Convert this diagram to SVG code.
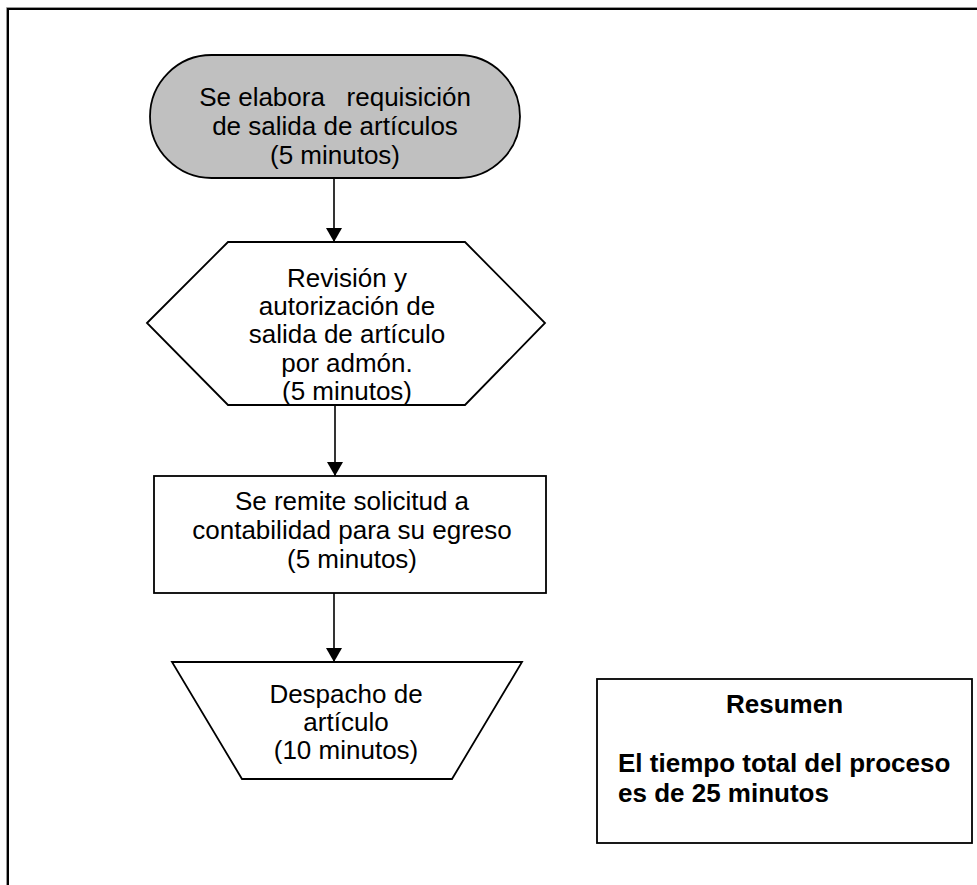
<svg xmlns="http://www.w3.org/2000/svg" width="977" height="885" viewBox="0 0 977 885">
  <style>
    .shape { stroke: #000; stroke-width: 1.8; fill: #fff; }
    .term { fill: #c0c0c0; }
    .lbl { font-family: "Liberation Sans", Arial, sans-serif; font-size: 26px; fill: #000; text-anchor: middle; white-space: pre; }
    .sum { font-family: "Liberation Sans", Arial, sans-serif; font-size: 26px; font-weight: bold; fill: #000; }
    .flow { stroke: #000; stroke-width: 1.6; fill: none; marker-end: url(#head); }
  </style>
  <defs>
    <marker id="head" viewBox="0 0 14 16" refX="14" refY="8" markerWidth="14" markerHeight="16" markerUnits="userSpaceOnUse" orient="auto">
      <path d="M0,0 L14,8 L0,16 Z" fill="#000"/>
    </marker>
    <clipPath id="hexClip">
      <polygon points="147,323 228,242 465,242 545,323 465,405 228,405"/>
    </clipPath>
  </defs>

  <rect width="977" height="885" fill="#fff"/>

  <!-- page frame (runs off the right and bottom edges) -->
  <path d="M6.5,885 V7.5 H977" fill="none" stroke="#999" stroke-width="1"/>
  <path d="M8,885 V9 H977" fill="none" stroke="#000" stroke-width="2"/>

  <g id="connectors">
    <line class="flow" x1="334" y1="178" x2="334" y2="242"/>
    <line class="flow" x1="335" y1="405" x2="335" y2="476"/>
    <line class="flow" x1="334" y1="593" x2="334" y2="662"/>
  </g>

  <g id="start">
    <rect class="shape term" x="150" y="55" width="370" height="123" rx="61.5" ry="61.5"/>
    <text class="lbl" x="335" y="106">Se elabora   requisición</text>
    <text class="lbl" x="335" y="135">de salida de artículos</text>
    <text class="lbl" x="335" y="164">(5 minutos)</text>
  </g>

  <g id="review">
    <polygon class="shape" points="147,323 228,242 465,242 545,323 465,405 228,405"/>
    <g clip-path="url(#hexClip)">
      <text class="lbl" x="347" y="287">Revisión y</text>
      <text class="lbl" x="347" y="315">autorización de</text>
      <text class="lbl" x="347" y="343">salida de artículo</text>
      <text class="lbl" x="347" y="372">por admón.</text>
      <text class="lbl" x="347" y="400">(5 minutos)</text>
    </g>
  </g>

  <g id="remit">
    <rect class="shape" x="154" y="476" width="392" height="117"/>
    <text class="lbl" x="352" y="510">Se remite solicitud a</text>
    <text class="lbl" x="352" y="539">contabilidad para su egreso</text>
    <text class="lbl" x="352" y="568">(5 minutos)</text>
  </g>

  <g id="dispatch">
    <polygon class="shape" points="172,662 522,662 452,779 242,779"/>
    <text class="lbl" x="346" y="703">Despacho de</text>
    <text class="lbl" x="346" y="731">artículo</text>
    <text class="lbl" x="346" y="759">(10 minutos)</text>
  </g>

  <g id="summary">
    <rect class="shape" x="597" y="679" width="375" height="164"/>
    <text class="sum" x="784.5" y="713" text-anchor="middle">Resumen</text>
    <text class="sum" x="618" y="772">El tiempo total del proceso</text>
    <text class="sum" x="618" y="802">es de 25 minutos</text>
  </g>
</svg>
